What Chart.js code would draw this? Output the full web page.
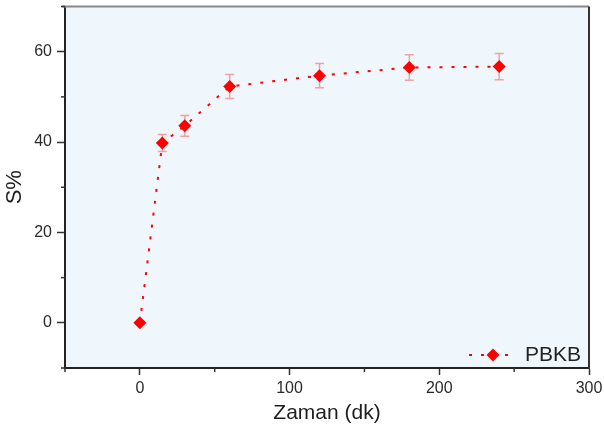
<!DOCTYPE html>
<html>
<head>
<meta charset="utf-8">
<script src="https://cdn.jsdelivr.net/npm/chart.js@4"></script>
<style>
  html, body { margin: 0; padding: 0; background: #fff; }
</style>
</head>
<body>
<canvas id="chartS" width="604" height="428"></canvas>
<script>
// Veriler
const zaman = [0, 15, 30, 60, 120, 180, 240];
const sYuzde = [0, 39.8, 43.6, 52.3, 54.7, 56.5, 56.7];
const hata = [0, 1.9, 2.3, 2.65, 2.7, 2.8, 2.9];
const seriAdi = 'PBKB';
const xEtiketler = [0, 100, 200, 300];
const yEtiketler = [0, 20, 40, 60];
const xAra = [-50, 50, 150, 250];
const yAra = [-10, 10, 30, 50, 70];

const yazi = '"Liberation Sans", Arial, sans-serif';
const kirmizi = '#ff0000';

// arka plan, hata çubukları, çerçeve, ara çentikler ve gösterge
const ekler = {
    id: 'ekler',
    beforeDraw(chart) {
        const { ctx, chartArea: a } = chart;
        ctx.save();
        ctx.fillStyle = '#eff7fd';
        ctx.fillRect(a.left, a.top, a.right - a.left, a.bottom - a.top);
        ctx.restore();
    },
    beforeDatasetsDraw(chart) {
        const { ctx, scales } = chart;
        ctx.save();
        ctx.strokeStyle = 'rgba(240, 90, 90, 0.55)';
        ctx.lineWidth = 1.5;
        zaman.forEach((t, i) => {
            if (!hata[i]) return;
            const x = scales.x.getPixelForValue(t);
            const y1 = scales.y.getPixelForValue(sYuzde[i] + hata[i]);
            const y2 = scales.y.getPixelForValue(sYuzde[i] - hata[i]);
            ctx.beginPath();
            ctx.moveTo(x, y1); ctx.lineTo(x, y2);
            ctx.moveTo(x - 4.5, y1); ctx.lineTo(x + 4.5, y1);
            ctx.moveTo(x - 4.5, y2); ctx.lineTo(x + 4.5, y2);
            ctx.stroke();
        });
        ctx.restore();
    },
    afterDraw(chart) {
        const { ctx, chartArea: a, scales } = chart;
        ctx.save();
        // üst ve sağ çerçeve
        ctx.lineWidth = 2;
        ctx.strokeStyle = '#888';
        ctx.beginPath(); ctx.moveTo(a.left - 3, a.top); ctx.lineTo(a.right, a.top); ctx.stroke();
        ctx.strokeStyle = '#333';
        ctx.beginPath(); ctx.moveTo(a.right, a.top); ctx.lineTo(a.right, a.bottom + 1); ctx.stroke();
        // ara çentikler
        ctx.lineWidth = 1.5;
        ctx.strokeStyle = '#333';
        xAra.forEach(v => {
            const x = scales.x.getPixelForValue(v);
            ctx.beginPath(); ctx.moveTo(x, a.bottom); ctx.lineTo(x, a.bottom + 4); ctx.stroke();
        });
        yAra.forEach(v => {
            const y = scales.y.getPixelForValue(v);
            ctx.beginPath(); ctx.moveTo(a.left, y); ctx.lineTo(a.left - 4, y); ctx.stroke();
        });
        // gösterge
        const ly = a.bottom - 13;
        const lx = a.right - 120;
        ctx.strokeStyle = kirmizi;
        ctx.lineWidth = 2;
        ctx.setLineDash([3, 9]);
        ctx.beginPath(); ctx.moveTo(lx, ly); ctx.lineTo(lx + 42, ly); ctx.stroke();
        ctx.setLineDash([]);
        const mx = lx + 24;
        ctx.fillStyle = kirmizi;
        ctx.beginPath();
        ctx.moveTo(mx, ly - 6.5); ctx.lineTo(mx + 6.5, ly);
        ctx.lineTo(mx, ly + 6.5); ctx.lineTo(mx - 6.5, ly);
        ctx.closePath(); ctx.fill();
        ctx.fillStyle = '#222';
        ctx.font = '21px ' + yazi;
        ctx.textBaseline = 'alphabetic';
        ctx.fillText(seriAdi, a.right - 64, a.bottom - 7);
        ctx.restore();
    }
};

const ctx = document.getElementById('chartS').getContext('2d');
new Chart(ctx, {
    type: 'scatter',
    data: {
        datasets: [{
            label: seriAdi,
            data: zaman.map((t, i) => ({ x: t, y: sYuzde[i] })),
            showLine: true,
            borderColor: kirmizi,
            backgroundColor: kirmizi,
            borderWidth: 2,
            borderDash: [3, 9],
            tension: 0,
            pointStyle: 'rectRot',
            pointRadius: 6.5,
            pointBorderWidth: 0,
            pointBackgroundColor: kirmizi
        }]
    },
    options: {
        responsive: false,
        animation: false,
        layout: { padding: { top: 6, right: 15, left: 0, bottom: 0 } },
        plugins: {
            legend: { display: false },
            tooltip: { enabled: false }
        },
        scales: {
            x: {
                type: 'linear',
                min: -50,
                max: 300,
                afterFit: s => { s.height = 60; s.paddingLeft = 0; s.paddingRight = 0; },
                border: { display: true, color: '#222', width: 2 },
                grid: {
                    drawOnChartArea: false,
                    tickLength: 7,
                    tickWidth: 1.5,
                    tickColor: c => xEtiketler.includes(c.tick.value) ? '#333' : 'rgba(0,0,0,0)'
                },
                ticks: {
                    stepSize: 50,
                    autoSkip: false,
                    maxRotation: 0,
                    padding: 4,
                    color: '#2a2a2a',
                    font: { family: yazi, size: 16 },
                    callback: v => xEtiketler.includes(v) ? String(v) : ''
                },
                title: {
                    display: true,
                    text: 'Zaman (dk)',
                    color: '#1e1e1e',
                    font: { family: yazi, size: 21 },
                    padding: { top: 0, bottom: 2 }
                }
            },
            y: {
                min: -10,
                max: 70,
                afterFit: s => { s.width = 65; s.paddingTop = 0; s.paddingBottom = 0; },
                border: { display: true, color: '#222', width: 2 },
                grid: {
                    drawOnChartArea: false,
                    tickLength: 8,
                    tickWidth: 1.5,
                    tickColor: c => yEtiketler.includes(c.tick.value) ? '#333' : 'rgba(0,0,0,0)'
                },
                ticks: {
                    stepSize: 10,
                    autoSkip: false,
                    padding: 5,
                    color: '#2a2a2a',
                    font: { family: yazi, size: 16 },
                    callback: v => yEtiketler.includes(v) ? String(v) : ''
                },
                title: {
                    display: true,
                    text: 'S%',
                    color: '#1e1e1e',
                    font: { family: yazi, size: 22 },
                    padding: { top: 2, bottom: 0 }
                }
            }
        }
    },
    plugins: [ekler]
});
</script>
</body>
</html>
